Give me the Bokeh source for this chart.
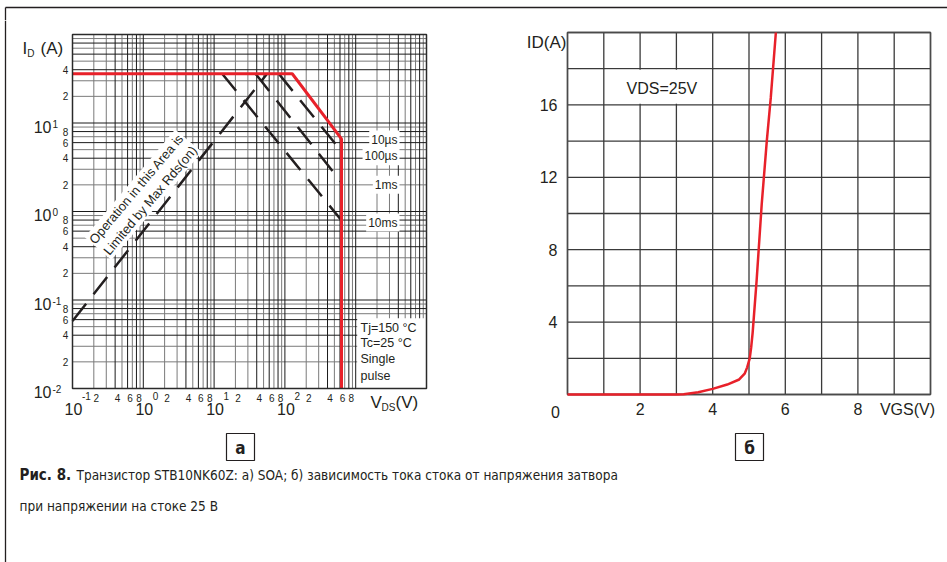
import math
from bokeh.plotting import figure
from bokeh.layouts import column, row
from bokeh.models import Label, Range1d
from bokeh.core.properties import value
from bokeh.embed import file_html
from bokeh.resources import INLINE

FONT = "Liberation Sans"
CAP_FONT = "'Liberation Sans Narrow', 'DejaVu Sans Condensed', Roboto, sans-serif"
INK = "#231f20"
RED = "#e8212a"

# ---------------- (a) SOA data ----------------
soa_vds = [0.1, 127, 630, 630]
soa_id = [36, 36, 6.6, 0.01]
rds_vds = [0.1, 56]
rds_id = [0.058, 36]
t10ms_vds = [13, 640]
t10ms_id = [36, 0.78]
t1ms_vds = [38.5, 640]
t1ms_id = [36, 2.1]
t100us_vds = [82, 640]
t100us_id = [36, 4.7]

x_major = [0.1, 1, 10, 100]
x_exp = ["-1", "0", "1", "2"]
y_major = [0.01, 0.1, 1, 10]
y_exp = ["-2", "-1", "0", "1"]
minor_digits = [2, 4, 6, 8]

pulse_text = ["10\u00b5s", "100\u00b5s", "1ms", "10ms"]
pulse_text_id = [6.5, 4.2, 2.0, 0.75]
cond_text = ["Tj=150 \u00b0C", "Tc=25 \u00b0C", "Single", "pulse"]

# ---------------- (б) transfer characteristic ----------------
vgs = [0, 1, 2, 3.0, 3.2, 3.6, 4.0, 4.4, 4.73, 4.88, 4.95, 5.02, 5.06, 5.1, 5.14, 5.21, 5.35, 5.49, 5.6, 5.74]
id_b = [0, 0, 0, 0, 0.02, 0.12, 0.31, 0.55, 0.83, 1.15, 1.5, 2.0, 2.6, 3.4, 4.45, 6.3, 10.5, 14.0, 16.4, 20.0]
vgs_ticks = [2, 4, 6, 8]
id_ticks = [4, 8, 12, 16]
vgs_grid = list(range(0, 11))
id_grid = list(range(0, 21, 2))

# data limits of the two plot boxes
XA0, XA1 = 0.1, 1e4
YA0, YA1 = 0.01, 100
XB0, XB1 = 0, 10
YB0, YB1 = 0, 20


def lab(p, x, y, text, size, dx=0, dy=0, align="left", baseline="middle",
        bold=False, bg=None, pad=0, angle=0.0, color=INK):
    kw = {}
    if bg is not None:
        kw = dict(background_fill_color=bg, padding=pad)
    p.add_layout(Label(x=x, y=y, x_offset=dx, y_offset=dy, text=text,
                       text_font=FONT, text_font_size=size, text_align=align,
                       text_baseline=baseline, text_color=color, angle=angle,
                       text_font_style="bold" if bold else "normal", **kw))


def panel(w, h, xr, yr, **kw):
    p = figure(width=w, height=h, x_range=xr, y_range=yr, min_border=0,
               x_axis_location=None, y_axis_location=None,
               toolbar_location=None, output_backend="svg", title=None,
               background_fill_color="white", border_fill_color="white", **kw)
    p.outline_line_color = None
    p.grid.visible = False
    return p


# ======== (a): log-log SOA; panel frame covers the whole panel ========
A_W, A_H = 463, 408
A_L, A_R, A_T, A_B = 65, 419, 14, 368       # plot box inside the panel (px)
dec_x = (A_R - A_L) / 5.0
dec_y = (A_B - A_T) / 4.0
xra = Range1d(XA0 * 10 ** (-A_L / dec_x), XA1 * 10 ** ((A_W - A_R) / dec_x))
yra = Range1d(YA0 * 10 ** (-(A_H - A_B) / dec_y), YA1 * 10 ** (A_T / dec_y))
pa = panel(A_W, A_H, xra, yra, x_axis_type="log", y_axis_type="log")

black_m = [1, 4, 6, 8]
gray_m = [2, 3, 5, 7, 9]
gx_black = [m * 10.0 ** k for k in range(-1, 4) for m in black_m] + [XA1]
gx_gray = [m * 10.0 ** k for k in range(-1, 4) for m in gray_m]
gy_black = [m * 10.0 ** k for k in range(-2, 2) for m in black_m] + [YA1]
gy_gray = [m * 10.0 ** k for k in range(-2, 2) for m in gray_m]
for gx, gy, col in [(gx_gray, gy_gray, "#7a7a7a"), (gx_black, gy_black, "#1a1a1a")]:
    pa.segment(x0=gx, y0=[YA0] * len(gx), x1=gx, y1=[YA1] * len(gx), line_color=col, line_width=1)
    pa.segment(x0=[XA0] * len(gy), y0=gy, x1=[XA1] * len(gy), y1=gy, line_color=col, line_width=1)

# white box behind the test conditions
pa.quad(left=[1050], right=[XA1], bottom=[YA0], top=[0.062], fill_color="white", line_color=None)

dash = "22 12"
for xs, ys in [(rds_vds, rds_id), (t10ms_vds, t10ms_id), (t1ms_vds, t1ms_id), (t100us_vds, t100us_id)]:
    pa.line(xs, ys, line_color=INK, line_width=2.5, line_dash=dash)
pa.line(soa_vds, soa_id, line_color=RED, line_width=3)

pa.quad(left=[XA0], right=[XA1], bottom=[YA0], top=[YA1], fill_color=None,
        line_color="#2a2a2a", line_width=1.5)

# tick labels
for t, e in zip(y_major, y_exp):
    lab(pa, XA0, t, "10", "16px", dx=-21, dy=-3.5, align="right")
    lab(pa, XA0, t, e, "10px", dx=-20, dy=-0.5)
for t, e in zip(x_major, x_exp):
    lab(pa, t, YA0, "10", "16px", dx=1, dy=-20, align="center")
    lab(pa, t, YA0, e, "10px", dx=9.5, dy=-7.5)
for k in range(-2, 2):
    for d in minor_digits:
        if k == 1 and d > 4:
            continue
        lab(pa, XA0, d * 10.0 ** k, str(d), "10px", dx=-7, align="center")
for k in range(-1, 3):
    for d in minor_digits:
        lab(pa, d * 10.0 ** k, YA0, str(d), "10px", dx=2.5, dy=-9, align="center")

# axis titles
lab(pa, XA0, YA1, "I", "17px", dx=-50, dy=-14)
lab(pa, XA0, YA1, "D", "10px", dx=-45.3, dy=-19)
lab(pa, XA0, YA1, "(A)", "17px", dx=-32, dy=-14)
lab(pa, XA1, YA0, "V", "17px", dx=-56, dy=-13.5)
lab(pa, XA1, YA0, "DS", "10px", dx=-45, dy=-18.5)
lab(pa, XA1, YA0, "(V)", "17px", dx=-31, dy=-13.5)

for t, yv in zip(pulse_text, pulse_text_id):
    lab(pa, XA1, yv, t, "12px", dx=-27, align="right", bg="white", pad=2)
for i, t in enumerate(cond_text):
    lab(pa, XA1, YA0, t, "12.5px", dx=-66, dy=[60.5, 45.5, 30, 13][i])

pa.add_layout(Label(x=1.0, y=1.55, text="Operation in this Area is\nLimited by Max Rds(on)",
                    text_font=FONT, text_font_size="13px", text_align="center",
                    text_baseline="middle", text_color=INK, angle=math.radians(50),
                    background_fill_color="white", padding=1))

# ======== (б): linear transfer characteristic ========
B_W, B_H = 477, 408
B_L, B_R, B_T, B_B = 97, 460, 12, 374
ux = (B_R - B_L) / (XB1 - XB0)
uy = (B_B - B_T) / (YB1 - YB0)
xrb = Range1d(XB0 - B_L / ux, XB1 + (B_W - B_R) / ux)
yrb = Range1d(YB0 - (B_H - B_B) / uy, YB1 + B_T / uy)
pb = panel(B_W, B_H, xrb, yrb)

pb.segment(x0=vgs_grid, y0=[YB0] * len(vgs_grid), x1=vgs_grid, y1=[YB1] * len(vgs_grid),
           line_color="#3a3a3a", line_width=1.3)
pb.segment(x0=[XB0] * len(id_grid), y0=id_grid, x1=[XB1] * len(id_grid), y1=id_grid,
           line_color="#3a3a3a", line_width=1.3)
pb.quad(left=[XB0], right=[XB1], bottom=[YB0], top=[YB1], fill_color=None,
        line_color="#4a4a4a", line_width=1.5)
pb.quad(left=[1.04], right=[3.96], bottom=[16.06], top=[17.94], fill_color="white", line_color=None)
pb.line(vgs, id_b, line_color=RED, line_width=2.5)

for t in vgs_ticks:
    lab(pb, t, YB0, str(t), "16px", dy=-14, align="center")
for t in id_ticks:
    lab(pb, XB0, t, str(t), "16px", dx=-10, align="right")
lab(pb, XB0, YB0, "0", "16px", dx=-12, dy=-17.7, align="center")
lab(pb, XB1, YB0, "VGS(V)", "16px", dx=-23, dy=-15.3, align="center")
lab(pb, XB0, YB1, "ID(A)", "17px", dx=-1, dy=-10, align="right")
lab(pb, 2.6, 16.9, "VDS=25V", "16px", align="center")

# ======== caption ========
pc = panel(940, 134, Range1d(7, 947), Range1d(562, 428))
pc.quad(left=[226, 735], right=[254, 763], top=[433, 433], bottom=[460, 460],
        fill_color="white", line_color=INK, line_width=1.2)
pc.text(x=[240, 749], y=[447, 447], text=["\u0430", "\u0431"], text_align="center",
        text_baseline="middle", text_font=value(CAP_FONT), text_font_style="bold",
        text_font_size="17px", text_color=INK)
pc.text(x=[19], y=[474], text=["\u0420\u0438\u0441. 8."], text_baseline="middle",
        text_font=value(CAP_FONT), text_font_style="bold", text_font_size="15px", text_color=INK)
pc.text(x=[76, 19], y=[474, 505],
        text=["\u0422\u0440\u0430\u043d\u0437\u0438\u0441\u0442\u043e\u0440 STB10NK60Z: \u0430) SOA; \u0431) \u0437\u0430\u0432\u0438\u0441\u0438\u043c\u043e\u0441\u0442\u044c \u0442\u043e\u043a\u0430 \u0441\u0442\u043e\u043a\u0430 \u043e\u0442 \u043d\u0430\u043f\u0440\u044f\u0436\u0435\u043d\u0438\u044f \u0437\u0430\u0442\u0432\u043e\u0440\u0430",
              "\u043f\u0440\u0438 \u043d\u0430\u043f\u0440\u044f\u0436\u0435\u043d\u0438\u0438 \u043d\u0430 \u0441\u0442\u043e\u043a\u0435 25 \u0412"],
        text_baseline="middle", text_font=value(CAP_FONT), text_font_size="13.5px", text_color=INK)

# ======== page frame lines ========
top = panel(947, 20, Range1d(0, 947), Range1d(20, 0))
top.segment(x0=[5, 5], y0=[7, 7], x1=[947, 5], y1=[7, 20], line_color=INK, line_width=1.3)
left = panel(7, 542, Range1d(0, 7), Range1d(562, 20))
left.segment(x0=[5], y0=[20], x1=[5], y1=[562], line_color=INK, line_width=1.3)

layout = column(top, row(left, column(row(pa, pb), pc)))
open("out.html", "w").write(file_html(layout, INLINE))
